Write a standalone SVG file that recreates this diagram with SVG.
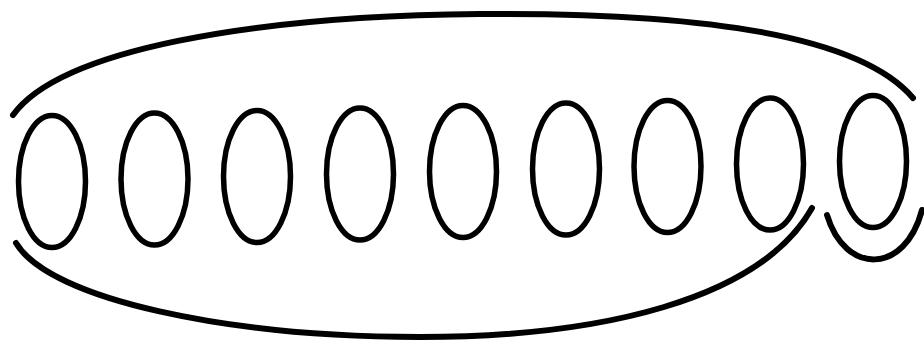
<svg xmlns="http://www.w3.org/2000/svg" width="924" height="346" viewBox="0 0 924 346">
<style>
.ring{fill:none;stroke:#000;stroke-width:5.5}
.arc{fill:none;stroke:#000;stroke-width:6;stroke-linecap:round}
</style>
<rect width="924" height="346" fill="#fff"/>
<g id="node1"><ellipse class="ring" cx="52" cy="181.5" rx="33.5" ry="66"/></g>
<g id="node2"><ellipse class="ring" cx="154.5" cy="179" rx="33.5" ry="66"/></g>
<g id="node3"><ellipse class="ring" cx="257" cy="176.5" rx="33.5" ry="66"/></g>
<g id="node4"><ellipse class="ring" cx="360" cy="174" rx="33.5" ry="66"/></g>
<g id="node5"><ellipse class="ring" cx="463" cy="171.5" rx="33.5" ry="66"/></g>
<g id="node6"><ellipse class="ring" cx="566" cy="169" rx="33.5" ry="66"/></g>
<g id="node7"><ellipse class="ring" cx="667.5" cy="166.5" rx="33.5" ry="66"/></g>
<g id="node8"><ellipse class="ring" cx="770" cy="164" rx="33.5" ry="66"/></g>
<g id="node9"><ellipse class="ring" cx="873" cy="161.5" rx="33.5" ry="66"/></g>
<g id="connectors">
<path class="arc" d="M 13 115 C 60 50, 250 16, 480 14 C 700 12, 860 35, 913 98"/>
<path class="arc" d="M 16 243 C 50 300, 230 337, 420 337 C 600 337, 760 300, 812 208"/>
<path class="arc" d="M 827 215 C 845 275, 905 275, 922 210"/>
</g>
</svg>
